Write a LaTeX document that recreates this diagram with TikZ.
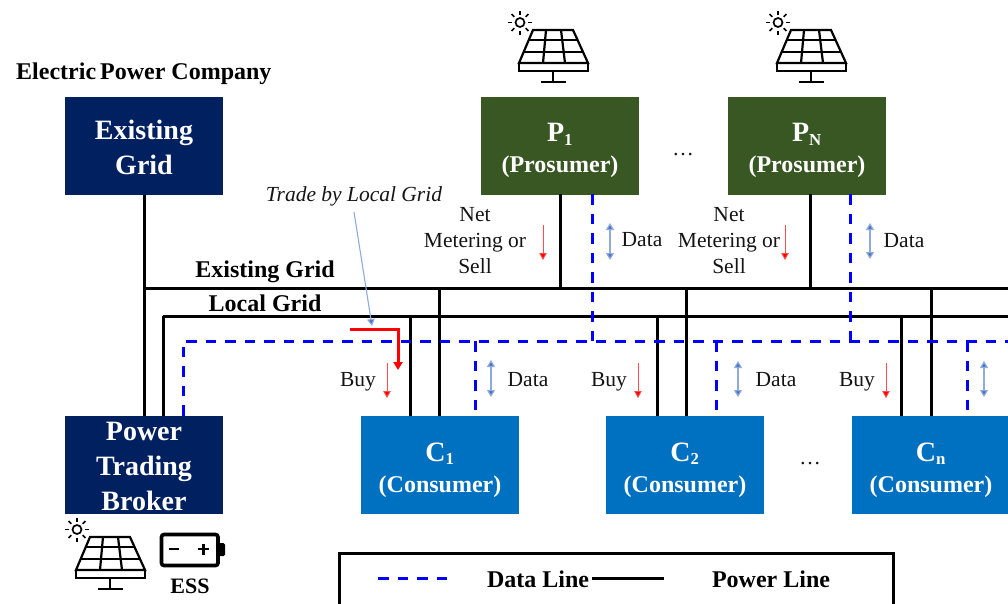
\documentclass[tikz,border=0pt]{standalone}
\usepackage{fontspec}
\setmainfont{Liberation Serif}
\usetikzlibrary{arrows.meta,calc}
\tikzset{
  x=1pt,y=-1pt,
  box/.style={minimum width=158pt,minimum height=98pt,inner sep=0pt},
  navybox/.style={box,fill=navyc},
  greenbox/.style={box,fill=greenc},
  bluebox/.style={box,fill=bluec},
  bigtext/.style={inner sep=0pt,align=center,text=white,font=\fontsize{28}{35}\selectfont\bfseries,yshift=-1.5pt},
  subtext/.style={inner sep=0pt,align=center,text=white,font=\fontsize{24}{31}\selectfont\bfseries,yshift=-5pt},
  powerline/.style={draw=black,line width=3pt},
  dataline/.style={draw=dashblue,line width=3pt,dash pattern=on 10.5pt off 9pt},
  redflow/.style={draw=red!70!white,line width=0.9pt,-{Triangle[length=7pt,width=7.5pt,fill=red]}},
  dataflow/.style={draw=lineblue,line width=1.2pt,{Triangle[length=7pt,width=8pt,fill=headblue]}-{Triangle[length=7pt,width=8pt,fill=headblue]}},
  lab/.style={inner sep=0pt,font=\fontsize{21.5}{26}\selectfont,align=center,text=black!92},
  blab/.style={inner sep=0pt,font=\fontsize{24}{28}\selectfont\bfseries,text=black},
  icon/.style={line width=2.2pt,draw=black,line join=miter},
}
\definecolor{navyc}{HTML}{002060}
\definecolor{greenc}{HTML}{385723}
\definecolor{bluec}{HTML}{0070C0}
\definecolor{dashblue}{HTML}{0000FF}
\definecolor{lineblue}{HTML}{8FAADC}
\definecolor{headblue}{HTML}{4472C4}
\newcommand{\solaricon}[2]{%
\begin{scope}[shift={(#1,#2)}]
  \draw[icon] (533,30) -- (573,30) -- (588,63) -- (519,63) -- cycle;
  \draw[icon] (519,63) rectangle (588,71);
  \draw[icon] (529,40) -- (577,40) (523,52) -- (584,52);
  \draw[icon] (546,30) -- (543,63) (561,30) -- (565,63);
  \draw[icon] (553,71) -- (553,82) (541,82) -- (566,82);
  \draw[line width=1.7pt] (520,22.5) circle (4.5);
  \foreach \a in {0,45,...,315}
    \draw[line width=1.7pt] ($(520,22.5)+(\a:8)$) -- ($(520,22.5)+(\a:12)$);
\end{scope}}
\newcommand{\capl}[1]{{\fontsize{28}{30}\selectfont #1}}
\begin{document}
\begin{tikzpicture}
\useasboundingbox (0,0) rectangle (1008,603);
\clip (0,0) rectangle (1008,603);
% boxes
\node[navybox,label={[bigtext]center:Existing\\Grid}] (eg) at (144,145.5) {};
\node[navybox,label={[bigtext]center:Power\\Trading\\Broker}] (broker) at (144,465) {};
\node[greenbox,label={[subtext]center:\capl{P}\textsubscript{1}\\(Prosumer)}] (p1) at (560,145.5) {};
\node[greenbox,label={[subtext]center:\capl{P}\textsubscript{N}\\(Prosumer)}] (pn) at (807,145.5) {};
\node[bluebox,label={[subtext]center:\capl{C}\textsubscript{1}\\(Consumer)}] (c1) at (440,465) {};
\node[bluebox,label={[subtext]center:\capl{C}\textsubscript{2}\\(Consumer)}] (c2) at (685,465) {};
\node[bluebox,label={[subtext]center:\capl{C}\textsubscript{n}\\(Consumer)}] (cn) at (931,465) {};
% junctions
\coordinate (egL) at (144,288); \coordinate (egR) at (1008,288);
\coordinate (lgL) at (163,316); \coordinate (lgR) at (1008,316);
\coordinate (dlL) at (183,341); \coordinate (dlR) at (1008,341);
% power lines
\draw[powerline] (eg.south) -- (broker.north);
\draw[powerline] (egL) -- (egR);
\draw[powerline] (lgL) -- (lgR);
\draw[powerline] (lgL) -- (lgL |- broker.north);
\foreach \xa in {560,810}
  \draw[powerline] (\xa,194) -- (\xa,288);
\foreach \xa in {410,439,657,686,901,931}
  \draw[powerline] (\xa,316) -- (\xa,416);
\foreach \xa in {439,686,931}
  \draw[powerline] (\xa,288) -- (\xa,316);
% data lines
\draw[dataline] (dlL |- broker.north) -- (dlL) -- (dlR);
\draw[dataline] (592,194) -- (592,341);
\draw[dataline] (850,194) -- (850,341);
\draw[dataline] (475,341) -- (475,416);
\draw[dataline] (716,341) -- (716,416);
\draw[dataline] (967,341) -- (967,416);
% thick red
\draw[draw=red,line width=3pt,-{Triangle[length=8pt,width=9pt,fill=red]}] (350,329) -- (398,329) -- (398,370);
% trade
\node[lab,font=\fontsize{21.5}{24}\selectfont\itshape] (trade) at (354,196) {Trade by Local Grid};
\coordinate (tradeEnd) at (372,326);
\draw[draw=lineblue,line width=1.1pt,-{Triangle[length=7pt,width=7.5pt,fill=headblue]}] (354,212) -- (tradeEnd);
% labels
\node[blab,anchor=west] (epc) at (16,74) {Electric\,Power Company};
\node[blab] (lex) at (265,272) {Existing Grid};
\node[blab] (llg) at (265,303) {Local Grid};
\node[lab] (nm1) at (475,241) {Net\\Metering or\\Sell};
\node[lab] (nm2) at (729,241) {Net\\Metering or\\Sell};
\node[lab] (d1) at (642,240) {Data};
\node[lab] (d2) at (904,241) {Data};
\node[lab] (d3) at (528,380) {Data};
\node[lab] (d4) at (776,380) {Data};
\node[lab] (b1) at (358,382) {Buy};
\node[lab] (b2) at (609,382) {Buy};
\node[lab] (b3) at (857,382) {Buy};
\node[lab] (dots1) at (683,155) {…};
\node[lab] (dots2) at (810,464) {…};
% flow arrows
\draw[redflow] (543,225) -- (543,260);
\draw[redflow] (785,225) -- (785,260);
\draw[redflow] (387,363) -- (387,398);
\draw[redflow] (638,363) -- (638,398);
\draw[redflow] (886,363) -- (886,398);
\draw[dataflow] (610,223) -- (610,260);
\draw[dataflow] (870,223) -- (870,259);
\draw[dataflow] (491,360) -- (491,397);
\draw[dataflow] (738,361) -- (738,397);
\draw[dataflow] (984,361) -- (984,397);
% icons
\solaricon{0}{0}
\solaricon{258}{0}
\solaricon{-443}{507}
% battery
\draw[line width=3.6pt,rounded corners=2.5pt] (161.5,534.5) rectangle (218,565.5);
\fill[rounded corners=1.5pt] (218,543) -- (225,543) -- (225,556) -- (218,556) -- cycle;
\draw[line width=2.4pt] (169,549) -- (179,549) (198,549) -- (209,549) (203.5,544) -- (203.5,555);
\node[blab,font=\fontsize{22}{24}\selectfont\bfseries] (ess) at (190,586) {ESS};
% legend
\node[draw=black,line width=3pt,anchor=north west,minimum width=554pt,minimum height=80pt,inner sep=0pt] (legend) at (338,552) {};
\node[blab] (ldata) at (538,579) {Data Line};
\node[blab] (lpower) at (771,579) {Power Line};
\coordinate (lp1) at (592,578); \coordinate (lp2) at (664,578);
\coordinate (ld1) at (378,578); \coordinate (ld2) at (447,578);
\draw[dataline] (ld1) -- (ld2);
\draw[powerline] (lp1) -- (lp2);
\end{tikzpicture}
\end{document}
